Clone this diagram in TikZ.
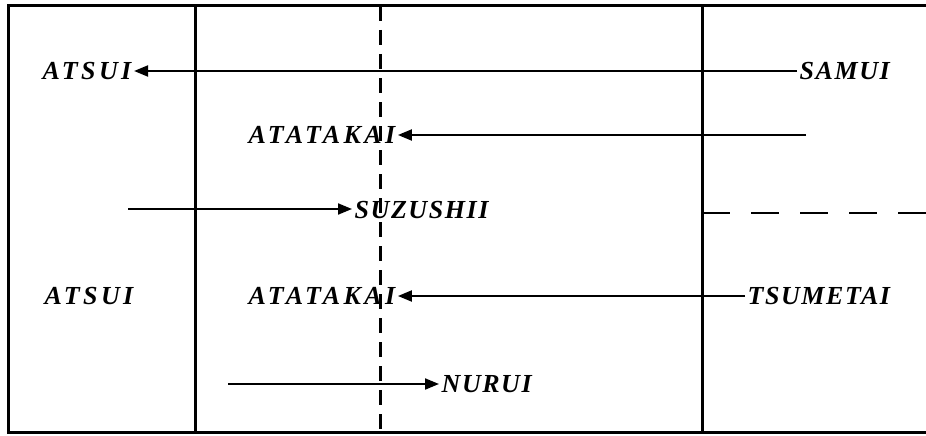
\documentclass[tikz,border=0pt]{standalone}
\usepackage{fontspec}
\setmainfont{Liberation Serif}
\usetikzlibrary{arrows.meta}
\newfontfamily\lblfont[LetterSpace=6,Ligatures=NoCommon]{Liberation Serif Bold Italic}
\newfontfamily\lblwidefont[LetterSpace=13,Ligatures=NoCommon]{Liberation Serif Bold Italic}
\begin{document}
\begin{tikzpicture}[x=1pt,y=-1pt,
  frameline/.style={line width=3pt},
  midline/.style={line width=3pt, dash pattern=on 15pt off 9pt},
  sideline/.style={line width=2.2pt, dash pattern=on 28pt off 21pt},
  lbl/.style={inner sep=2.5pt, font=\lblfont\fontsize{26}{30}\selectfont},
  lblwide/.style={lbl, font=\lblwidefont\fontsize{26}{30}\selectfont},
  conn/.style={line width=2pt, -{Triangle[length=14pt,width=11pt]}}]
\useasboundingbox (0,0) rectangle (926,436);
\fill[white] (0,0) rectangle (926,436);
% frame
\draw[frameline] (926,6) -- (8,6) -- (8,432) -- (926,432);
\draw[frameline] (195,6) -- (195,432);
\draw[frameline] (702,6) -- (702,432);
\draw[midline] (380,6) -- (380,432);
\draw[sideline] (702,213) -- (926,213);
% labels
\node[lblwide, anchor=west] (atsuiA) at (40,71) {ATSUI};
\node[lbl, anchor=west] (samui) at (797,71) {SAMUI};
\node[lblwide, anchor=west] (atatakaiA) at (246,135) {ATATAKAI};
\node[lbl, anchor=west] (suzushii) at (352,210) {SUZUSHII};
\node[lblwide, anchor=west] (atsuiB) at (42,296) {ATSUI};
\node[lblwide, anchor=west] (atatakaiB) at (246,296) {ATATAKAI};
\node[lbl, anchor=west] (tsumetai) at (745,296) {TSUMETAI};
\node[lbl, anchor=west] (nurui) at (439,384) {NURUI};
\coordinate (s2) at (806,135);
\coordinate (s3) at (128,209);
\coordinate (s5) at (228,384);
% connectors
\draw[conn] (samui.west) -- (atsuiA.east);
\draw[conn] (s2) -- (atatakaiA.east |- s2);
\draw[conn] (s3) -- (suzushii.west |- s3);
\draw[conn] (tsumetai.west) -- (atatakaiB.east);
\draw[conn] (s5) -- (nurui.west);
\end{tikzpicture}
\end{document}
